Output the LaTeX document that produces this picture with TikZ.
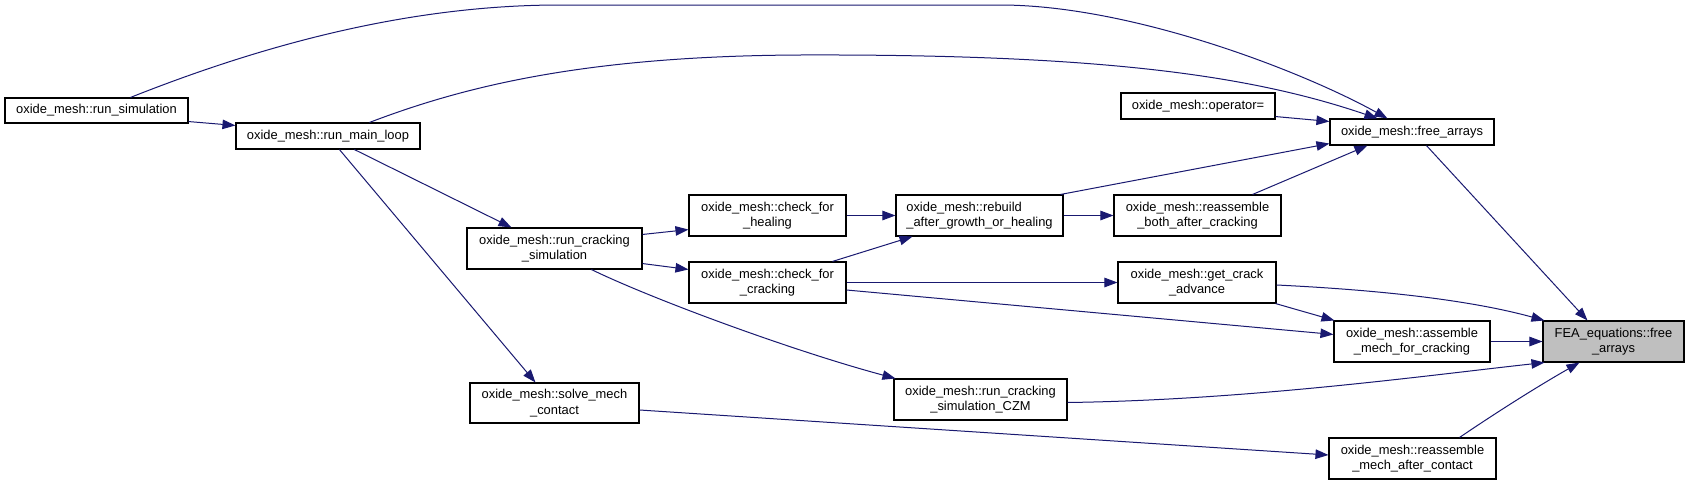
\documentclass[tikz,border=0pt]{standalone}
\usepackage{fontspec}
\setmainfont{Liberation Sans}
\usetikzlibrary{arrows.meta}
\definecolor{edgec}{HTML}{191970}
\definecolor{feafill}{HTML}{BFBFBF}
\begin{document}
\begin{tikzpicture}[x=1pt,y=-1pt,
  box/.style={draw=black, line width=1.1pt, fill=white, inner sep=1pt,
    font=\fontsize{12.9}{15.5}\selectfont, align=center},
  nd/.style 2 args={box, minimum width=#1, minimum height=#2},
  edge/.style={draw=edgec, line width=1pt, -{Triangle[length=13pt,width=9.5pt]}}]
\fill[white] (0,0) rectangle (1689,485);
\useasboundingbox (0,0) rectangle (1689,485);

\node[nd={183pt}{25pt}] (rs) at (96.5,110.5) {oxide\_mesh::run\_simulation};
\node[nd={184pt}{26pt}] (ml) at (328,136) {oxide\_mesh::run\_main\_loop};
\node[nd={175pt}{41pt}] (rcs) at (554.5,248.5) {oxide\_mesh::run\_cracking\\\_simulation};
\node[nd={169pt}{40pt}] (smc) at (554.5,403) {oxide\_mesh::solve\_mech\\\_contact};
\node[nd={157pt}{41pt}] (cfh) at (767.5,215.5) {oxide\_mesh::check\_for\\\_healing};
\node[nd={157pt}{41pt}] (cfc) at (767.5,282.5) {oxide\_mesh::check\_for\\\_cracking};
\node[nd={167pt}{41pt}, align=left] (rb) at (979.5,215.5) {oxide\_mesh::rebuild\\\_after\_growth\_or\_healing};
\node[nd={173pt}{41pt}] (czm) at (980.5,399.5) {oxide\_mesh::run\_cracking\\\_simulation\_CZM};
\node[nd={154pt}{26pt}] (op) at (1198,106) {oxide\_mesh::operator=};
\node[nd={167pt}{41pt}] (rba) at (1197.5,215.5) {oxide\_mesh::reassemble\\\_both\_after\_cracking};
\node[nd={158pt}{41pt}] (gca) at (1197,282.5) {oxide\_mesh::get\_crack\\\_advance};
\node[nd={164pt}{26pt}] (fa) at (1412,132) {oxide\_mesh::free\_arrays};
\node[nd={156pt}{41pt}] (amc) at (1412,341.5) {oxide\_mesh::assemble\\\_mech\_for\_cracking};
\node[nd={167pt}{41pt}] (rmac) at (1412.5,458.5) {oxide\_mesh::reassemble\\\_mech\_after\_contact};
\node[nd={141pt}{41pt}, fill=feafill] (fea) at (1613.5,341.5) {FEA\_equations::free\\\_arrays};

\draw[edge] ([yshift=2pt]rs.south east) -- ([yshift=-3pt]ml.north west);
\draw[edge] ([xshift=126pt]rs.north west) .. controls (250,50) and (400,5) .. (560,5) -- (1000,5) .. controls (1130,5) and (1300,70) .. ([xshift=58pt]fa.north west);
\draw[edge] ([xshift=134pt]ml.north west) .. controls (460,88) and (580,56) .. (800,55) .. controls (1100,54) and (1250,75) .. ([xshift=48pt]fa.north west);
\draw[edge] ([xshift=119pt]ml.south west) -- ([xshift=45pt]rcs.north west);
\draw[edge] ([xshift=104pt]ml.south west) -- ([xshift=66pt]smc.north west);
\draw[edge] ([yshift=-7pt]rcs.north east) -- ([yshift=7pt]cfh.south west);
\draw[edge] ([yshift=6pt]rcs.south east) -- ([yshift=-8pt]cfc.north west);
\draw[edge] ([xshift=125pt]rcs.south west) .. controls (652,299) and (793,351) .. ([xshift=2pt]czm.north west);
\draw[edge] (cfh.east) -- (rb.west);
\draw[edge] ([xshift=144pt]cfc.north west) -- ([xshift=17pt]rb.south west);
\draw[edge] (cfc.east) -- (gca.west);
\draw[edge] ([yshift=-7.5pt]cfc.east) -- ([yshift=-14pt]amc.north west);
\draw[edge] (rb.east) -- (rba.west);
\draw[edge] ([xshift=-3pt]rb.north east) -- ([yshift=2pt]fa.south west);
\draw[edge] ([xshift=-29pt]rba.north east) -- ([xshift=38pt]fa.south west);
\draw[edge] ([yshift=3pt]op.south east) -- ([yshift=-3pt]fa.north west);
\draw[edge] ([xshift=97pt]fa.south west) -- ([xshift=45pt]fea.north west);
\draw[edge] ([yshift=-2.5pt]gca.east) .. controls (1380,290) and (1470,300) .. ([xshift=2pt]fea.north west);
\draw[edge] ([xshift=-1pt]gca.south east) -- ([xshift=1pt]amc.north west);
\draw[edge] (amc.east) -- (fea.west);
\draw[edge] ([yshift=-3pt]czm.east) .. controls (1250,400) and (1430,375) .. ([xshift=2pt]fea.south west);
\draw[edge] ([xshift=-37pt]rmac.north east) .. controls (1500,410) and (1540,385) .. ([xshift=37pt]fea.south west);
\draw[edge] ([yshift=-7pt]smc.east) -- ([yshift=3.5pt]rmac.west);
\end{tikzpicture}
\end{document}
